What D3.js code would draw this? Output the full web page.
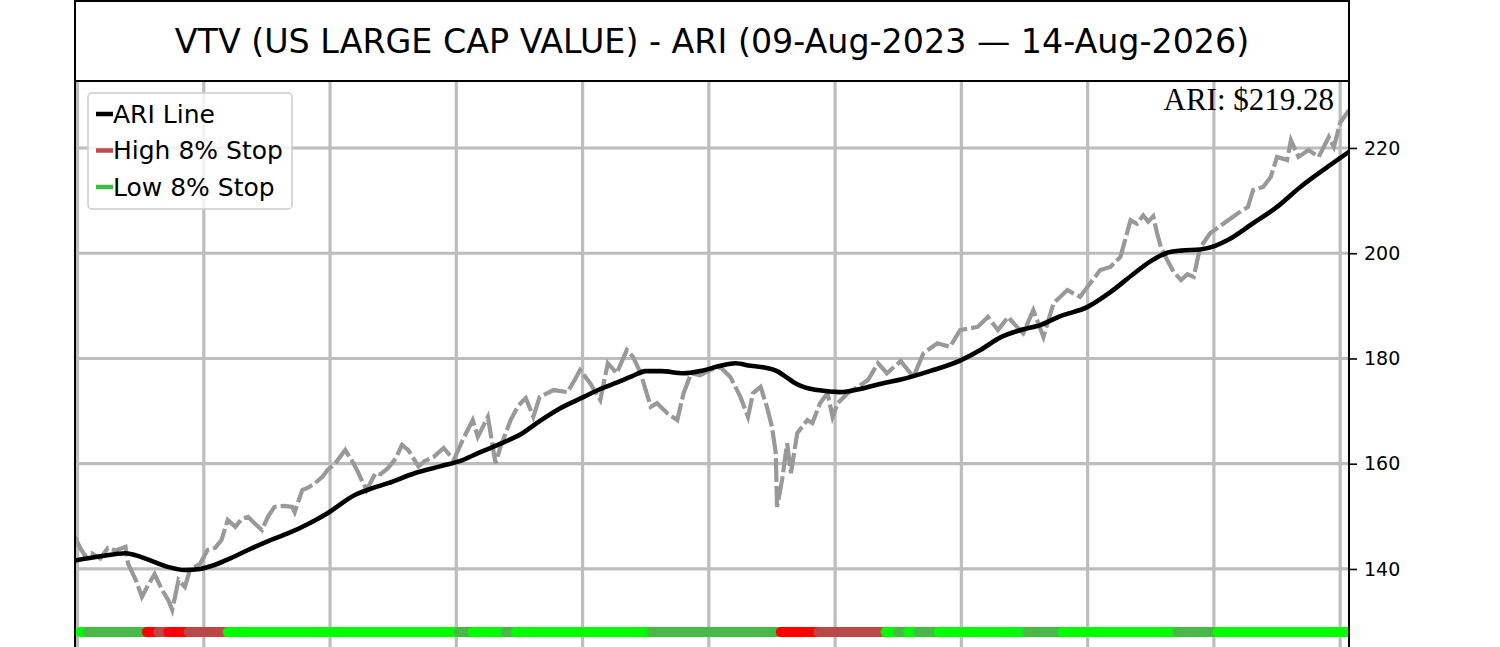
<!DOCTYPE html>
<html>
<head>
<meta charset="utf-8">
<script src="https://cdn.jsdelivr.net/npm/d3@7"></script>
<style>
  body { margin: 0; background: #fff; }
  svg { display: block; }
</style>
</head>
<body>
<svg id="chart"></svg>
<script>
// price (trading day index, close)
const priceData = [
  [0,146.1],[4,144],[8,142.5],[13,143],[20,142],[26,144],[32,143.5],[40,144.2],[42,141],
  [48,138],[53,134.7],[58,137],[63,139],[69,136],[74,134],[77,132.2],[82,137.9],[87,136.6],
  [91,139.8],[99,141],[105,143.6],[111,144],[116,145.5],[121,149.3],[127,148],[132,149.5],
  [137,149.9],[143,148.5],[148,147.4],[153,150],[158,151.8],[166,152],[172,151.8],[174,150.8],
  [180,155],[185,155.5],[190,156.3],[196,157.5],[200,158.8],[206,160],[214,162.6],[219,160.7],
  [224,158.5],[227,156.9],[231,155],[238,158.2],[242,158],[248,159.2],[254,161],[259,163.6],
  [264,162.6],[272,159.5],[277,160.5],[284,161.3],[292,163],[300,160.7],[307,164.5],[315,168.3],
  [319,165.1],[327,168.9],[333,160.1],[337,163.2],[345,168.3],[351,171],[357,172.5],[363,168.9],
  [368,172.7],[379,174],[390,173.6],[396,176],[400,177.8],[408,175.3],[416,172.1],[422,179.1],
  [429,177.2],[437,181.6],[442,180.3],[448,177.2],[456,170.8],[461,171.5],[469,169.6],[477,168.3],
  [482,173.4],[488,177.2],[495,176.8],[503,177.8],[511,178.4],[519,176.5],[527,172.7],[533,168.9],
  [537,173.4],[543,174.6],[548,170.8],[552,167],[555,162],[556,151.8],[560,156.9],[564,163.9],
  [567,158.2],[572,165.8],[580,168.3],[584,167.7],[590,171.5],[596,173.4],[600,168.9],[604,171.5],
  [612,173.4],[620,174.6],[628,175.9],[636,179.1],[643,177.2],[654,179.5],[664,176.5],[672,181],
  [683,182.9],[693,182.2],[701,185.4],[715,186],[723,187.9],[731,185.4],[739,187.9],[746,186],
  [751,184.8],[759,189.2],[767,184.1],[775,190.5],[786,193],[796,191.7],[804,194.3],[812,196.8],
  [820,197.4],[828,199.3],[836,206.3],[841,205.6],[846,207.2],[850,206],[854,207],[857,203.8],
  [860,201.2],[865,198.7],[870,196.5],[876,194.9],[881,196],[886,195.5],[891,201],[899,203.8],
  [910,205.7],[921,207.6],[929,208.8],[933,212],[941,212.6],[947,214.5],[952,218.3],[960,217.7],
  [963,221.5],[969,218.3],[977,219.6],[985,218.3],[993,222.1],[997,220.2],[1002,224.8],[1009,227.2]
];

// ARI line
const ariData = [
  [0,141.6],[20,142.4],[40,143],[52,142.3],[63,141.3],[75,140.3],[87,139.8],[99,140],[111,140.8],
  [123,142],[137,143.6],[153,145.3],[169,146.8],[185,148.6],[200,150.6],[222,154.1],[235,155.3],
  [248,156.3],[269,158.2],[289,159.5],[307,160.7],[321,162.2],[337,163.8],[353,165.6],[368,168.1],
  [384,170.5],[403,172.7],[416,174.2],[429,175.4],[441,176.6],[452,177.6],[464,177.6],[482,177.2],
  [495,177.6],[511,178.6],[523,179.1],[535,178.6],[548,178.2],[556,177.6],[563,176.5],[569,175.5],
  [578,174.5],[588,174],[606,173.6],[622,174.2],[640,175.3],[654,176],[677,177.6],[701,179.6],
  [717,181.6],[733,184],[749,185.4],[765,186.4],[780,188],[802,189.8],[820,192.6],[838,196],
  [852,198.5],[864,200],[876,200.5],[891,200.7],[903,201.4],[913,202.5],[933,205.7],[952,208.8],
  [970,212.5],[992,216.4],[1009,219.28]
];

// stop state bands along the bottom: [fromDay, toDay, kind]
const stopBands = [
  [0,6,"up"],[6,53,"low"],[53,62,"down"],[62,70,"high"],[70,86,"down"],[86,117,"high"],
  [117,300,"up"],[300,311,"low"],[311,337,"up"],[337,345,"low"],[345,453,"up"],[453,555,"low"],
  [555,585,"down"],[585,638,"high"],[638,648,"up"],[648,656,"low"],[656,664,"up"],[664,680,"low"],
  [680,750,"up"],[750,778,"low"],[778,869,"up"],[869,901,"low"],[901,1009,"up"]
];

const yTicks = [140, 160, 180, 200, 220];
const xGridDays = [2, 102, 202, 302, 402, 502, 602, 702, 802, 902, 1002];
const legendItems = [
  { label: "ARI Line", color: "#000000" },
  { label: "High 8% Stop", color: "#bf4a4a" },
  { label: "Low 8% Stop", color: "#3cbe3c" }
];
const titleText = "VTV (US LARGE CAP VALUE) - ARI (09-Aug-2023 \u2014 14-Aug-2026)";
const lastAri = 219.28;
const bandLevel = 128;

const bandColors = { up: "#00ff00", low: "#46b946", down: "#ff0000", high: "#bc4747" };

const W = 1500, H = 647;
const plotL = 75, plotR = 1349, plotT = 81, plotB = 660;

const svg = d3.select("#chart").attr("width", W).attr("height", H);

const x = d3.scaleLinear().domain([0, 1009]).range([plotL, plotR]);
const y = d3.scaleLinear().domain([122.7, 232.73]).range([plotB, plotT]);

svg.append("defs").append("clipPath").attr("id", "plot-clip")
  .append("rect")
  .attr("x", plotL).attr("y", plotT)
  .attr("width", plotR - plotL).attr("height", plotB - plotT);

// grid
const grid = svg.append("g").attr("clip-path", "url(#plot-clip)");
grid.selectAll(".vgrid")
  .data(xGridDays)
  .enter().append("line")
  .attr("x1", d => x(d)).attr("x2", d => x(d))
  .attr("y1", plotT).attr("y2", plotB)
  .attr("stroke", "#bdbdbd").attr("stroke-width", 3.2);
grid.selectAll(".hgrid")
  .data(yTicks)
  .enter().append("line")
  .attr("x1", plotL).attr("x2", plotR)
  .attr("y1", d => y(d)).attr("y2", d => y(d))
  .attr("stroke", "#bdbdbd").attr("stroke-width", 3.2);

const plot = svg.append("g").attr("clip-path", "url(#plot-clip)");

// price line
plot.append("path")
  .datum(priceData)
  .attr("fill", "none")
  .attr("stroke", "#999999")
  .attr("stroke-width", 4.2)
  .attr("stroke-dasharray", "24,4")
  .attr("d", d3.line().x(d => x(d[0])).y(d => y(d[1])));

// ARI line
plot.append("path")
  .datum(ariData)
  .attr("fill", "none")
  .attr("stroke", "#000")
  .attr("stroke-width", 4.6)
  .attr("d", d3.line().curve(d3.curveMonotoneX).x(d => x(d[0])).y(d => y(d[1])));

// stop bands
const cap = 5;
plot.selectAll(".band")
  .data(stopBands)
  .enter().append("line")
  .attr("x1", d => x(d[0]) + cap)
  .attr("x2", d => x(d[1]) + cap)
  .attr("y1", y(bandLevel)).attr("y2", y(bandLevel))
  .attr("stroke", d => bandColors[d[2]])
  .attr("stroke-width", 10)
  .attr("stroke-linecap", "round");

// frame
svg.append("rect")
  .attr("x", plotL).attr("y", plotT)
  .attr("width", plotR - plotL).attr("height", plotB - plotT)
  .attr("fill", "none").attr("stroke", "#000").attr("stroke-width", 2);

// right axis
const yAxis = svg.append("g")
  .attr("transform", `translate(${plotR},0)`)
  .call(d3.axisRight(y).tickValues(yTicks).tickSize(8).tickPadding(7));
yAxis.select(".domain").remove();
yAxis.selectAll("line").attr("stroke", "#000").attr("stroke-width", 1.6);
yAxis.selectAll("text")
  .attr("font-family", "DejaVu Sans")
  .attr("font-size", 19)
  .attr("fill", "#000");

// title box
svg.append("rect")
  .attr("x", plotL).attr("y", 1)
  .attr("width", plotR - plotL).attr("height", plotT - 1)
  .attr("fill", "#fff").attr("stroke", "#000").attr("stroke-width", 2);
svg.append("text")
  .attr("x", (plotL + plotR) / 2).attr("y", 41)
  .attr("text-anchor", "middle").attr("dominant-baseline", "central")
  .attr("font-family", "DejaVu Sans").attr("font-size", 33.3)
  .text(titleText);

// last ARI value
svg.append("text")
  .attr("x", 1334).attr("y", 110)
  .attr("text-anchor", "end")
  .attr("font-family", "Liberation Serif").attr("font-size", 31)
  .text(`ARI: $${lastAri.toFixed(2)}`);

// legend
const legend = svg.append("g").attr("transform", "translate(88,93)");
legend.append("rect")
  .attr("width", 204).attr("height", 116).attr("rx", 4)
  .attr("fill", "#fff").attr("fill-opacity", 0.8)
  .attr("stroke", "#cccccc").attr("stroke-width", 1.5);
const rows = legend.selectAll(".row")
  .data(legendItems)
  .enter().append("g")
  .attr("transform", (d, i) => `translate(0,${21 + i * 36.5})`);
rows.append("line")
  .attr("x1", 8).attr("x2", 25)
  .attr("stroke", d => d.color).attr("stroke-width", 4.5);
rows.append("text")
  .attr("x", 25).attr("dominant-baseline", "central")
  .attr("font-family", "DejaVu Sans").attr("font-size", 25)
  .text(d => d.label);
</script>
</body>
</html>
